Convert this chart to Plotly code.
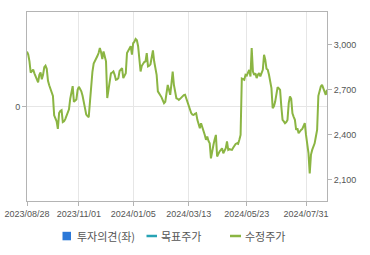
import plotly.graph_objects as go
import pandas as pd

# KRX market holidays in the period
holidays = ["2023-09-28", "2023-09-29", "2023-10-02", "2023-10-03", "2023-10-09",
            "2023-12-25", "2023-12-29", "2024-01-01", "2024-02-09", "2024-02-12",
            "2024-03-01", "2024-04-10", "2024-05-01", "2024-05-06", "2024-05-15",
            "2024-06-06", "2024-08-15"]

dates = [d.strftime("%Y/%m/%d") for d in pd.bdate_range("2023-08-28", "2024-08-26")
         if d.strftime("%Y-%m-%d") not in holidays]

# 수정주가 (adjusted close)
prices = [
    2955, 2935, 2890, 2815, 2825, 2835, 2810, 2790, 2780, 2750,
    2800, 2815, 2770, 2800, 2850, 2860, 2840, 2760, 2730, 2710,
    2690, 2660, 2530, 2510, 2490, 2440, 2545, 2560, 2565, 2485,
    2490, 2505, 2530, 2545, 2570, 2640, 2690, 2725, 2620, 2625,
    2635, 2700, 2720, 2705, 2690, 2660, 2625, 2580, 2535, 2525,
    2518, 2620, 2760, 2820, 2875, 2890, 2900, 2925, 2945, 2978,
    2950, 2905, 2955, 2930, 2890, 2645, 2700, 2780, 2810, 2815,
    2822, 2800, 2767, 2770, 2778, 2825, 2840, 2845, 2778, 2800,
    2810, 2945, 2965, 2975, 2990, 2935, 3010, 3020, 3038, 3030,
    2990, 2900, 2822, 2860, 2878, 2885, 2890, 2944, 2856, 2860,
    2870, 2920, 2962, 2890, 2833, 2800, 2690, 2678, 2660, 2650,
    2630, 2611, 2620, 2670, 2733, 2700, 2667, 2740, 2822, 2733,
    2680, 2644, 2640, 2633, 2640, 2650, 2656, 2665, 2667, 2640,
    2622, 2590, 2567, 2545, 2535, 2533, 2540, 2544, 2500, 2470,
    2444, 2478, 2455, 2433, 2400, 2367, 2389, 2360, 2344, 2244,
    2300, 2333, 2370, 2400, 2256, 2278, 2290, 2300, 2311, 2278,
    2295, 2311, 2356, 2300, 2305, 2300, 2300, 2315, 2333, 2340,
    2344, 2340, 2367, 2400, 2775, 2770, 2767, 2800, 2795, 2815,
    2833, 2789, 2978, 2822, 2800, 2810, 2778, 2800, 2811, 2789,
    2810, 2833, 2933, 2900, 2840, 2833, 2800, 2756, 2711, 2578,
    2590, 2620, 2667, 2718, 2710, 2700, 2589, 2500, 2490, 2478,
    2485, 2500, 2611, 2656, 2640, 2544, 2520, 2500, 2433, 2444,
    2411, 2425, 2433, 2440, 2455, 2478, 2400, 2330, 2278, 2144,
    2267, 2300, 2320, 2344, 2389, 2433, 2660, 2700, 2722, 2733,
    2711, 2690, 2667, 2700,
]

opinion = [None]      # 투자의견(좌): no data shown
target = [None]       # 목표주가: no data shown

series_names = ["투자의견(좌)", "목표주가", "수정주가"]
series_colors = ["#2b78d8", "#27a3b4", "#8bb543"]

x_ticks = ["2023/08/28", "2023/11/01", "2024/01/05", "2024/03/13", "2024/05/23", "2024/07/31"]
y2_ticks = [2100, 2400, 2700, 3000]

TICK_FONT = dict(family="Liberation Sans, Arial, sans-serif", size=9, color="#555555")
LEG_FONT = dict(family="Noto Sans CJK KR, sans-serif", size=11, color="#555555")
BORDER = "#b4b4b4"
GRID = "#e6e6e6"

W, H = 370, 255
ML, MR, MT, MB = 27, 43, 12, 54
PW, PH = W - ML - MR, H - MT - MB


def px(xp):
    return (xp - ML) / PW


def py(yp):
    return (H - MB - yp) / PH


fig = go.Figure()
fig.add_trace(go.Bar(x=dates[:1], y=opinion, name=series_names[0],
                     marker_color=series_colors[0], yaxis="y"))
fig.add_trace(go.Scatter(x=dates[:1], y=target, name=series_names[1], mode="lines",
                         line=dict(color=series_colors[1], width=2.5), yaxis="y2"))
fig.add_trace(go.Scatter(x=dates, y=prices, name=series_names[2], mode="lines",
                         line=dict(color=series_colors[2], width=2), yaxis="y2"))

# custom compact legend (symbol + text) below the plot
leg_y = 236
shapes = [
    dict(type="rect", xref="paper", yref="paper", x0=px(62.5), x1=px(71), y0=py(240.3), y1=py(231.8),
         fillcolor=series_colors[0], line=dict(width=0)),
    dict(type="line", xref="paper", yref="paper", x0=px(146.5), x1=px(157), y0=py(leg_y), y1=py(leg_y),
         line=dict(color=series_colors[1], width=2.5)),
    dict(type="line", xref="paper", yref="paper", x0=px(230), x1=px(241), y0=py(leg_y), y1=py(leg_y),
         line=dict(color=series_colors[2], width=2.5)),
]
annotations = [
    dict(text=series_names[i], xref="paper", yref="paper", x=px(xs), y=py(leg_y),
         xanchor="left", yanchor="middle", showarrow=False, font=LEG_FONT, borderpad=0)
    for i, xs in enumerate([75.5, 159.5, 243.5])
]

fig.update_layout(
    width=W, height=H,
    margin=dict(l=ML, r=MR, t=MT, b=MB),
    paper_bgcolor="white", plot_bgcolor="white",
    showlegend=False,
    shapes=shapes, annotations=annotations,
    xaxis=dict(type="category", range=[0, len(dates) - 1], automargin=False,
               tickmode="array", tickvals=x_ticks, ticktext=x_ticks,
               showgrid=True, gridcolor=GRID, gridwidth=1,
               showline=True, linecolor=BORDER, linewidth=1, mirror=True,
               ticks="outside", ticklen=4, tickcolor=BORDER,
               tickfont=TICK_FONT, tickangle=0, zeroline=False),
    yaxis=dict(range=[-1, 1], tickmode="array", tickvals=[0], ticktext=["0"], automargin=False,
               showgrid=True, gridcolor=GRID, zeroline=False,
               showline=True, linecolor=BORDER, linewidth=1,
               ticks="outside", ticklen=4, tickcolor=BORDER, tickfont=TICK_FONT),
    yaxis2=dict(range=[1960, 3218], overlaying="y", side="right", automargin=False,
                tickmode="array", tickvals=y2_ticks, tickformat=",d",
                showgrid=False, zeroline=False,
                showline=True, linecolor=BORDER, linewidth=1,
                ticks="outside", ticklen=4, tickcolor=BORDER, tickfont=TICK_FONT),
)

fig.write_html("out.html")
